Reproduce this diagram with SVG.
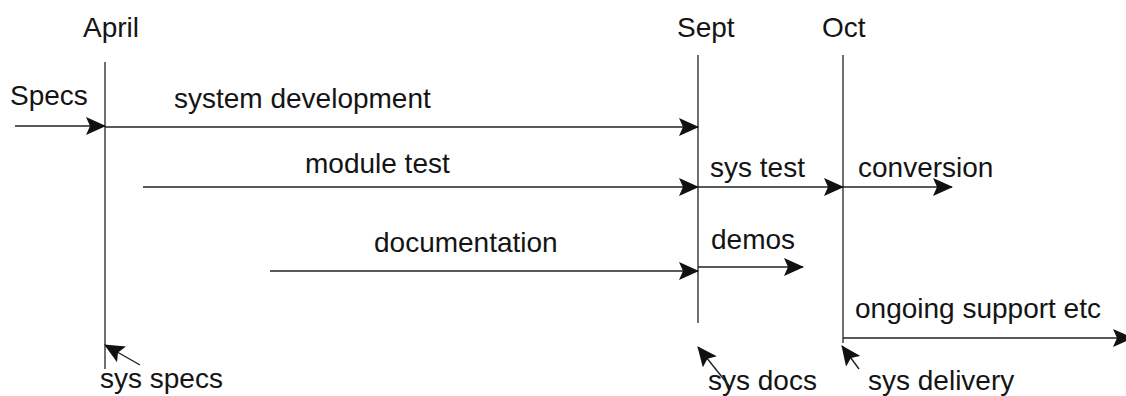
<svg xmlns="http://www.w3.org/2000/svg" width="1126" height="396" viewBox="0 0 1126 396">
  <style>
    text { font-family: "Liberation Sans", Arial, sans-serif; font-size: 28px; fill: #141414; }
    .mile { stroke: #222; stroke-width: 1.3; fill: none; }
    .flow { stroke: #222; stroke-width: 1.4; fill: none; marker-end: url(#head); }
  </style>
  <defs>
    <marker id="head" viewBox="0 0 20 18" refX="19" refY="9" markerWidth="20" markerHeight="18" markerUnits="userSpaceOnUse" orient="auto">
      <path d="M0,0 L20,9 L0,18 L4,9 Z" fill="#111"/>
    </marker>
  </defs>

  <!-- milestone markers -->
  <g id="april">
    <text x="83" y="37">April</text>
    <line class="mile" x1="105" y1="62" x2="105" y2="369"/>
  </g>
  <g id="sept">
    <text x="677" y="37">Sept</text>
    <line class="mile" x1="698" y1="55" x2="698" y2="323"/>
  </g>
  <g id="oct">
    <text x="822" y="37">Oct</text>
    <line class="mile" x1="843" y1="55" x2="843" y2="343"/>
  </g>

  <!-- activity labels -->
  <g id="labels">
    <text x="10" y="105">Specs</text>
    <text x="174" y="108">system development</text>
    <text x="305" y="173">module test</text>
    <text x="710" y="177">sys test</text>
    <text x="858" y="177">conversion</text>
    <text x="374" y="252">documentation</text>
    <text x="711" y="249">demos</text>
    <text x="855" y="318">ongoing support etc</text>
    <text x="100" y="388">sys specs</text>
    <text x="708" y="390">sys docs</text>
    <text x="868" y="390">sys delivery</text>
  </g>

  <!-- connectors -->
  <g id="connectors">
    <line class="flow" x1="15" y1="126" x2="105" y2="126"/>
    <line class="flow" x1="105" y1="127" x2="698" y2="127"/>
    <line class="flow" x1="143" y1="187" x2="698" y2="187"/>
    <line class="flow" x1="698" y1="187" x2="843" y2="187"/>
    <line class="flow" x1="843" y1="187" x2="952" y2="187"/>
    <line class="flow" x1="270" y1="271" x2="698" y2="271"/>
    <line class="flow" x1="698" y1="267" x2="803" y2="267"/>
    <line class="flow" x1="843" y1="338" x2="1132" y2="338"/>
    <line class="flow" x1="140" y1="365" x2="105" y2="345"/>
    <line class="flow" x1="730" y1="387" x2="698" y2="347"/>
    <line class="flow" x1="859" y1="369" x2="842" y2="346"/>
  </g>
</svg>
